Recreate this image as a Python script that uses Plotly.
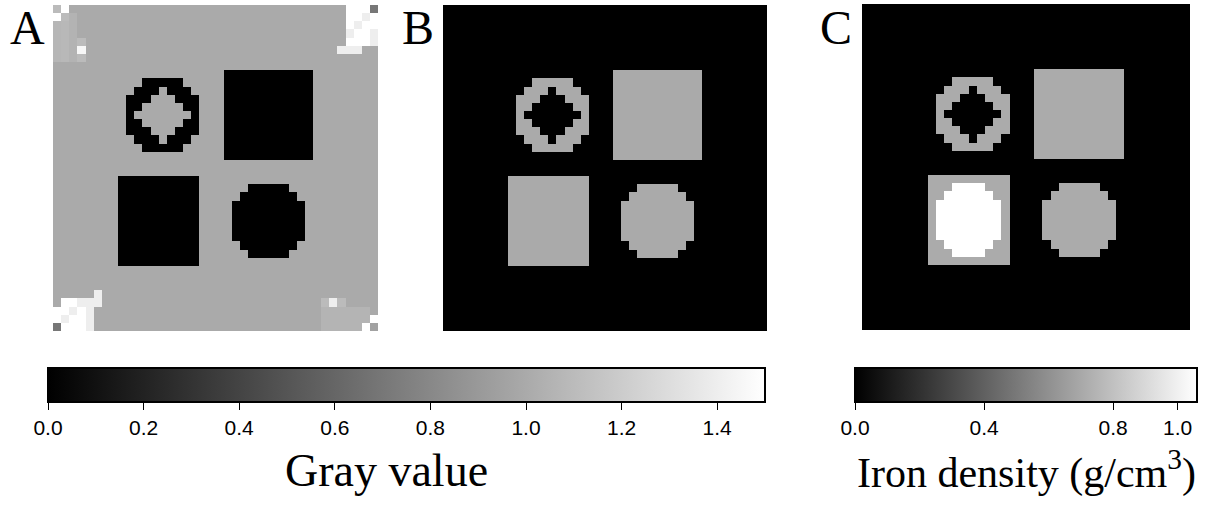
import numpy as np
import plotly.graph_objects as go

N = 40  # phantom grid size (cells per side)

# Shapes, as (row, first_col, last_col) spans or (row0, row1, col0, col1) rectangles
ring_outer = [(9, 11, 15), (10, 10, 16), (11, 9, 17), (12, 9, 17), (13, 9, 17),
              (14, 9, 17), (15, 9, 17), (16, 10, 16), (17, 11, 15)]
ring_hole = [(10, 13, 13), (11, 12, 14), (12, 11, 15), (13, 10, 16),
             (14, 11, 15), (15, 12, 14), (16, 13, 13)]
square_top = (8, 18, 21, 31)
square_bottom = (21, 31, 8, 17)
disk = [(22, 24, 28), (23, 23, 29), (24, 22, 30), (25, 22, 30), (26, 22, 30),
        (27, 22, 30), (28, 22, 30), (29, 23, 29), (30, 24, 28)]
iron_core = [(22, 11, 14), (23, 10, 15), (24, 9, 16), (25, 9, 16), (26, 9, 16),
             (27, 9, 16), (28, 9, 16), (29, 10, 15), (30, 11, 14)]

# Gray values of panel A
gray_background = 1.0
gray_object = 0.0
# corner artefacts of panel A: (top row, left col, values)
corner_top_left = (0, 0, [[1.10, 1.50, 1.00, 1.00],
                          [1.50, 1.10, 1.05, 1.00],
                          [1.07, 1.08, 1.05, 1.00],
                          [1.07, 1.08, 1.05, 1.00],
                          [1.07, 1.08, 1.05, 1.10],
                          [1.07, 1.08, 1.05, 1.45],
                          [1.07, 1.08, 1.05, 1.10]])
corner_top_right = (0, 35, [[1.00, 1.50, 1.50, 1.50, 0.70],
                            [1.00, 1.50, 1.50, 1.40, 1.50],
                            [1.00, 1.50, 1.40, 1.50, 1.50],
                            [1.00, 1.40, 1.50, 1.50, 1.40],
                            [1.00, 1.50, 1.50, 1.50, 1.40],
                            [1.40, 1.40, 1.40, 1.00, 1.00]])
corner_bottom_left = (35, 0, [[1.00, 1.00, 1.00, 1.00, 1.00, 1.40],
                              [1.00, 1.50, 1.50, 1.40, 1.40, 1.40],
                              [1.50, 1.50, 1.40, 1.50, 1.40, 1.00],
                              [1.50, 1.40, 1.50, 1.50, 1.40, 1.00],
                              [0.70, 1.50, 1.50, 1.50, 1.40, 1.00]])
corner_bottom_right = (36, 33, [[1.10, 1.40, 1.10, 1.00, 1.00, 1.00, 1.00],
                                [1.06, 1.06, 1.06, 1.06, 1.06, 1.06, 1.00],
                                [1.06, 1.06, 1.06, 1.06, 1.06, 1.06, 1.50],
                                [1.06, 1.06, 1.06, 1.06, 1.06, 1.50, 0.95]])

# Panel B values
seg_background = 0.0
seg_object = 1.0

# Panel C: iron density (g/cm3)
iron_background = 0.0
iron_object = 0.71
iron_core_value = 1.06

gray_range = (0.0, 1.5)
gray_ticks = [0.0, 0.2, 0.4, 0.6, 0.8, 1.0, 1.2, 1.4]
gray_ticktext = ["0.0", "0.2", "0.4", "0.6", "0.8", "1.0", "1.2", "1.4"]
iron_range = (0.0, 1.06)
iron_ticks = [0.0, 0.4, 0.8, 1.0]
iron_ticktext = ["0.0", "0.4", "0.8", "1.0"]


def fill_spans(z, spans, v):
    for r, c0, c1 in spans:
        z[r, c0:c1 + 1] = v


def fill_rect(z, rect, v):
    r0, r1, c0, c1 = rect
    z[r0:r1 + 1, c0:c1 + 1] = v


def paste(z, patch):
    r0, c0, vals = patch
    a = np.array(vals)
    z[r0:r0 + a.shape[0], c0:c0 + a.shape[1]] = a


# Panel A
zA = np.full((N, N), gray_background)
fill_spans(zA, ring_outer, gray_object)
fill_spans(zA, ring_hole, gray_background)
fill_rect(zA, square_top, gray_object)
fill_rect(zA, square_bottom, gray_object)
fill_spans(zA, disk, gray_object)
for p in (corner_top_left, corner_top_right, corner_bottom_left, corner_bottom_right):
    paste(zA, p)

# Panel B
zB = np.full((N, N), seg_background)
fill_spans(zB, ring_outer, seg_object)
fill_spans(zB, ring_hole, seg_background)
fill_rect(zB, square_top, seg_object)
fill_rect(zB, square_bottom, seg_object)
fill_spans(zB, disk, seg_object)

# Panel C
zC = np.full((N, N), iron_background)
fill_spans(zC, ring_outer, iron_object)
fill_spans(zC, ring_hole, iron_background)
fill_rect(zC, square_top, iron_object)
fill_rect(zC, square_bottom, iron_object)
fill_spans(zC, iron_core, iron_core_value)
fill_spans(zC, disk, iron_object)

W, H = 1206, 508
GRAYS = [[0, "#000000"], [1, "#ffffff"]]


def px_x(a, b):
    return [a / W, b / W]


def px_y(top, bottom):
    return [1 - bottom / H, 1 - top / H]


fig = go.Figure()
cells = list(range(N))

tick_font = dict(family="Liberation Sans, Arial, sans-serif", size=21, color="black")
cb_common = dict(orientation="h", thickness=34, thicknessmode="pixels", lenmode="fraction",
                 outlinewidth=2, outlinecolor="black", ticks="outside", ticklen=7,
                 tickwidth=1.3, tickcolor="black", tickfont=tick_font,
                 xpad=0, ypad=0, yanchor="top", y=1 - 368 / H, xanchor="center")

fig.add_trace(go.Heatmap(z=zA, x=cells, y=cells, colorscale=GRAYS, zmin=gray_range[0],
                         zmax=gray_range[1], xaxis="x", yaxis="y", hoverinfo="skip",
                         colorbar=dict(cb_common, x=(48 + 765) / 2 / W, len=717 / W,
                                       tickvals=gray_ticks, ticktext=gray_ticktext)))
fig.add_trace(go.Heatmap(z=zB, x=cells, y=cells, colorscale=GRAYS, zmin=gray_range[0],
                         zmax=gray_range[1], xaxis="x2", yaxis="y2", hoverinfo="skip",
                         showscale=False))
fig.add_trace(go.Heatmap(z=zC, x=cells, y=cells, colorscale=GRAYS, zmin=iron_range[0],
                         zmax=iron_range[1], xaxis="x3", yaxis="y3", hoverinfo="skip",
                         colorbar=dict(cb_common, x=(855 + 1197) / 2 / W, len=342 / W,
                                       tickvals=iron_ticks, ticktext=iron_ticktext)))

hidden = dict(showgrid=False, zeroline=False, showticklabels=False, ticks="",
              showline=False)
panels = [("", (53, 378), (5, 331)), ("2", (443, 767), (5, 331)), ("3", (862, 1190), (4, 330))]
layout = dict(width=W, height=H, margin=dict(l=0, r=0, t=0, b=0),
              paper_bgcolor="white", plot_bgcolor="white", showlegend=False)
for suffix, (x0, x1), (y0, y1) in panels:
    layout["xaxis" + suffix] = dict(hidden, domain=px_x(x0, x1), range=[-0.5, N - 0.5],
                                    anchor="y" + suffix)
    layout["yaxis" + suffix] = dict(hidden, domain=px_y(y0, y1), range=[N - 0.5, -0.5],
                                    anchor="x" + suffix)
fig.update_layout(**layout)

serif = "Liberation Serif, Times New Roman, serif"
labels = [("A", 27), ("B", 418), ("C", 836)]
for text, xp in labels:
    fig.add_annotation(text=text, x=xp / W, y=1 - 27 / H, xref="paper", yref="paper",
                       showarrow=False, xanchor="center", yanchor="middle",
                       font=dict(family=serif, size=48, color="black"))

fig.add_annotation(text="Gray value", x=386 / W, y=1 - 470 / H, xref="paper", yref="paper",
                   showarrow=False, xanchor="center", yanchor="middle",
                   font=dict(family=serif, size=46, color="black"))
fig.add_annotation(text="Iron density (g/cm<sup>3</sup>)", x=1026 / W, y=1 - 470 / H,
                   xref="paper", yref="paper", showarrow=False, xanchor="center",
                   yanchor="middle", font=dict(family=serif, size=42, color="black"))

fig.write_html("out.html")
